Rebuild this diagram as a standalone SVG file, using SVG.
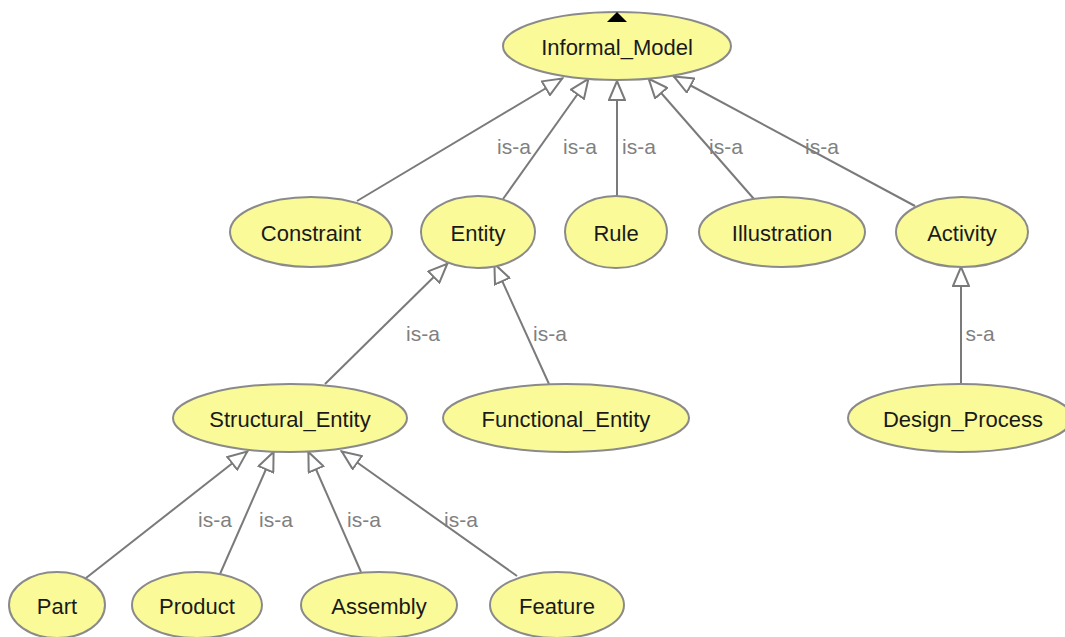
<svg xmlns="http://www.w3.org/2000/svg" width="1065" height="637" viewBox="0 0 1065 637">
<style>
.n ellipse{fill:#fafa98;stroke:#8a8a8a;stroke-width:2}
.n text{font-family:"Liberation Sans",Arial,sans-serif;font-size:22px;fill:#1a1a1a;text-anchor:middle;dominant-baseline:central}
#edges line{stroke:#7a7a7a;stroke-width:2;marker-end:url(#tri)}
.lbl{font-family:"Liberation Sans",Arial,sans-serif;font-size:21px;fill:#808080;text-anchor:middle;dominant-baseline:central}
</style>
<defs>
<marker id="tri" viewBox="0 0 22 18" refX="21" refY="9" markerWidth="22" markerHeight="18" markerUnits="userSpaceOnUse" orient="auto">
<path d="M1,1 L20,9 L1,17 z" fill="#fff" stroke="#7a7a7a" stroke-width="2" stroke-linejoin="miter"/>
</marker>
</defs>
<rect width="1065" height="637" fill="#fff"/>
<g id="edges">
<line x1="357" y1="201" x2="563" y2="78"/>
<line x1="503" y1="199" x2="589" y2="78"/>
<line x1="617" y1="197" x2="617" y2="80"/>
<line x1="754" y1="199" x2="648" y2="78"/>
<line x1="915" y1="206" x2="673" y2="76"/>
<line x1="325" y1="384" x2="448" y2="263"/>
<line x1="549" y1="384" x2="494" y2="263"/>
<line x1="961" y1="384" x2="961" y2="266"/>
<line x1="86" y1="578" x2="248" y2="451"/>
<line x1="220" y1="574" x2="274" y2="451"/>
<line x1="361" y1="572" x2="308" y2="451"/>
<line x1="517" y1="576" x2="341" y2="451"/>
<text class="lbl" x="514" y="146">is-a</text>
<text class="lbl" x="580" y="146">is-a</text>
<text class="lbl" x="639" y="146">is-a</text>
<text class="lbl" x="726" y="146">is-a</text>
<text class="lbl" x="822" y="146">is-a</text>
<text class="lbl" x="423" y="333">is-a</text>
<text class="lbl" x="550" y="333">is-a</text>
<text class="lbl" x="980" y="333">s-a</text>
<text class="lbl" x="215" y="519">is-a</text>
<text class="lbl" x="276" y="519">is-a</text>
<text class="lbl" x="364" y="519">is-a</text>
<text class="lbl" x="461" y="519">is-a</text>
</g>
<g id="Informal_Model" class="n"><ellipse cx="617" cy="46" rx="114" ry="34"/><text x="617" y="47">Informal_Model</text><polygon points="607,22 627,22 617,12" fill="#000"/></g>
<g id="Constraint" class="n"><ellipse cx="311" cy="232" rx="81" ry="35"/><text x="311" y="233">Constraint</text></g>
<g id="Entity" class="n"><ellipse cx="478" cy="232" rx="57" ry="36"/><text x="478" y="233">Entity</text></g>
<g id="Rule" class="n"><ellipse cx="616" cy="232" rx="51" ry="36"/><text x="616" y="233">Rule</text></g>
<g id="Illustration" class="n"><ellipse cx="782" cy="232" rx="83" ry="35"/><text x="782" y="233">Illustration</text></g>
<g id="Activity" class="n"><ellipse cx="962" cy="232" rx="66" ry="35"/><text x="962" y="233">Activity</text></g>
<g id="Structural_Entity" class="n"><ellipse cx="290" cy="418" rx="117" ry="34"/><text x="290" y="419">Structural_Entity</text></g>
<g id="Functional_Entity" class="n"><ellipse cx="566" cy="418" rx="123" ry="34"/><text x="566" y="419">Functional_Entity</text></g>
<g id="Design_Process" class="n"><ellipse cx="960" cy="418" rx="112" ry="34"/><text x="963" y="419">Design_Process</text></g>
<g id="Part" class="n"><ellipse cx="57" cy="605" rx="48" ry="33"/><text x="57" y="606">Part</text></g>
<g id="Product" class="n"><ellipse cx="197" cy="605" rx="65" ry="33"/><text x="197" y="606">Product</text></g>
<g id="Assembly" class="n"><ellipse cx="379" cy="605" rx="78" ry="33"/><text x="379" y="606">Assembly</text></g>
<g id="Feature" class="n"><ellipse cx="557" cy="605" rx="67" ry="33"/><text x="557" y="606">Feature</text></g>
</svg>
